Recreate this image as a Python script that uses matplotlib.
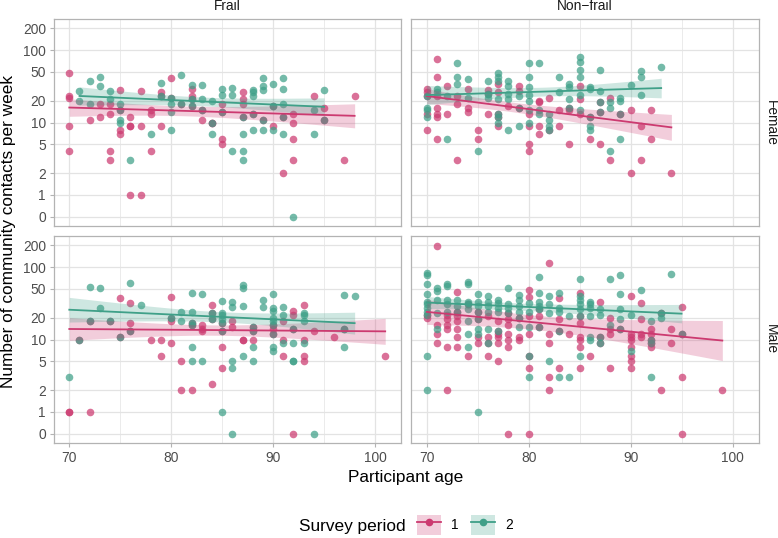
import numpy as np
import matplotlib
matplotlib.use("Agg")
import matplotlib.pyplot as plt
from matplotlib.patches import Patch
from matplotlib.lines import Line2D

plt.rcParams['font.family'] = ['Liberation Sans', 'DejaVu Sans']

# ---- data: age, community contacts per week ----
# Female, Frail
ff1_age = [70, 70, 70, 70, 70, 72, 73, 73, 74, 74, 74, 74, 75, 75, 75, 75, 76, 76, 76, 76,
           77, 77, 77, 78, 78, 78, 79, 79, 79, 80, 80, 81, 82, 82, 82, 82, 83, 83, 84, 84,
           85, 85, 85, 85, 87, 87, 87, 87, 88, 89, 90, 90, 91, 91, 92, 92, 92, 92, 94, 95,
           95, 97, 98]
ff1_n = [49, 23, 22, 9, 4, 11, 18, 12, 18, 13, 4, 3, 28, 15, 8, 7, 12, 9, 9, 1,
         27, 9, 1, 15, 13, 4, 26, 23, 9, 41, 22, 18, 29, 23, 21, 17, 11, 15, 10, 10,
         18, 14, 6, 5, 26, 21, 18, 12, 13, 11, 17, 9, 12, 2, 13, 10, 6, 3, 23, 16,
         11, 3, 23]
ff2_age = [71, 71, 72, 72, 73, 73, 74, 74, 75, 75, 75, 75, 76, 78, 79, 79, 80, 80, 80, 80,
           81, 81, 82, 82, 82, 83, 83, 83, 84, 84, 84, 85, 85, 85, 86, 86, 86, 87, 87, 87,
           87, 88, 88, 88, 88, 88, 89, 89, 89, 89, 89, 90, 90, 90, 91, 91, 91, 91, 91, 92,
           94, 94, 95, 95]
ff2_n = [27, 20, 37, 18, 42, 32, 27, 21, 18, 15, 11, 10, 3, 7, 35, 23, 18, 14, 8, 22,
         46, 18, 33, 21, 17, 33, 21, 15, 20, 10, 7, 29, 24, 14, 30, 24, 4, 12, 7, 4,
         3, 28, 26, 23, 13, 8, 41, 32, 28, 11, 8, 34, 17, 8, 41, 29, 18, 12, 7, 0,
         15, 7, 28, 11]

# Female, Non-frail
fn1_age = [70, 70, 70, 70, 70, 71, 71, 71, 71, 71, 71, 71, 72, 72, 73, 73, 73, 74, 74, 74,
           75, 75, 76, 76, 76, 77, 77, 77, 77, 77, 78, 79, 79, 79, 80, 80, 80, 80, 81, 81,
           81, 81, 82, 82, 83, 83, 84, 84, 84, 85, 85, 85, 86, 86, 87, 87, 87, 88, 88, 89,
           90, 90, 91, 91, 92, 92, 94]
fn1_n = [29, 26, 23, 13, 8, 75, 42, 23, 16, 13, 12, 6, 32, 13, 23, 18, 3, 29, 16, 14,
         8, 6, 28, 25, 13, 34, 26, 13, 12, 9, 17, 32, 27, 16, 13, 9, 5, 4, 20, 19,
         9, 7, 22, 8, 15, 9, 15, 16, 5, 32, 21, 13, 12, 6, 19, 14, 5, 22, 3, 13,
         15, 2, 9, 3, 15, 6, 2]
fn2_age = [70, 70, 70, 70, 71, 71, 72, 72, 73, 73, 73, 74, 74, 75, 76, 76, 76, 77, 77, 77,
           77, 77, 77, 77, 78, 78, 78, 78, 78, 79, 79, 79, 80, 80, 80, 80, 80, 80, 80, 81,
           81, 81, 82, 82, 82, 82, 83, 83, 84, 84, 84, 84, 85, 85, 85, 85, 85, 85, 86, 86,
           86, 86, 86, 87, 87, 87, 87, 88, 88, 88, 89, 89, 89, 89, 90, 91, 91, 91, 93]
fn2_n = [23, 16, 15, 12, 29, 26, 23, 6, 66, 42, 34, 40, 22, 4, 38, 25, 22, 48, 42, 38,
         21, 13, 12, 10, 38, 32, 25, 21, 8, 23, 16, 9, 66, 43, 31, 24, 20, 15, 10, 66,
         15, 13, 13, 11, 9, 8, 42, 26, 34, 31, 21, 16, 80, 68, 53, 43, 24, 15, 31, 29,
         12, 9, 8, 53, 27, 19, 14, 19, 16, 4, 22, 20, 13, 6, 33, 51, 43, 24, 59]

# Male, Frail
mf1_age = [70, 70, 71, 72, 72, 74, 75, 75, 76, 76, 76, 78, 79, 79, 80, 80, 80, 80, 81, 81,
           82, 82, 82, 83, 83, 83, 84, 84, 84, 84, 85, 85, 85, 85, 86, 86, 87, 87, 88, 88,
           88, 90, 90, 90, 91, 91, 91, 92, 92, 92, 92, 93, 93, 93, 93, 94, 96, 97, 101]
mf1_n = [1, 1, 10, 18, 1, 18, 38, 11, 32, 17, 13, 10, 10, 6, 39, 20, 18, 9, 5, 2,
         17, 16, 2, 16, 14, 13, 30, 23, 19, 2.4, 17, 13, 8, 4, 18, 15, 10, 10, 15, 13,
         10, 16, 14, 12, 18, 10, 6, 25, 22, 14, 0, 30, 10, 6, 5, 13, 11, 14, 6]
mf2_age = [70, 71, 72, 72, 73, 73, 74, 75, 76, 76, 77, 80, 81, 81, 82, 82, 82, 82, 82, 82,
           83, 83, 84, 84, 85, 85, 85, 85, 85, 85, 85, 86, 86, 86, 86, 86, 87, 87, 87, 87,
           88, 88, 88, 88, 89, 89, 90, 90, 90, 90, 90, 90, 90, 90, 90, 91, 91, 91, 92, 92,
           92, 92, 93, 93, 93, 93, 94, 97, 97, 97, 98]
mf2_n = [3, 10, 54, 18, 51, 27, 18, 11, 60, 13, 30, 20, 24, 18, 44, 24, 17, 16, 8, 5,
         42, 5, 23, 19, 34, 23, 22, 19, 17, 13, 1, 33, 28, 5, 4, 0, 57, 52, 29, 6,
         15, 13, 8, 5, 35, 28, 42, 27, 25, 20, 18, 16, 12, 8, 7, 28, 22, 9, 14, 9,
         5, 5, 23, 22, 18, 9, 0, 41, 14, 8, 40]

# Male, Non-frail
mn1_age = [70, 70, 71, 71, 71, 71, 72, 72, 72, 72, 72, 72, 73, 73, 73, 73, 73, 73, 73, 74,
           74, 75, 75, 75, 75, 76, 76, 76, 76, 77, 77, 77, 77, 77, 77, 78, 78, 78, 78, 78,
           78, 78, 79, 79, 79, 80, 80, 80, 80, 80, 80, 80, 81, 81, 81, 82, 82, 82, 82, 82,
           83, 83, 83, 83, 84, 85, 85, 85, 85, 85, 85, 85, 86, 87, 87, 87, 88, 88, 88, 88,
           89, 90, 90, 90, 90, 90, 90, 90, 90, 91, 91, 91, 91, 92, 92, 92, 92, 92, 93, 93,
           94, 94, 95, 95, 95, 95, 99]
mn1_n = [22, 20, 196, 16, 12, 9, 22, 19, 16, 14, 8, 2, 45, 24, 21, 18, 14, 11, 8, 31,
         6, 24, 19, 11, 9, 21, 11, 9, 6, 18, 13, 12, 11, 9, 5, 23, 19, 16, 12, 10,
         8, 0, 20, 11, 10, 48, 39, 21, 12, 6, 4, 0, 26, 21, 15, 116, 12, 9, 3, 2,
         38, 19, 13, 4, 12, 44, 21, 17, 11, 10, 8, 4, 6, 33, 11, 9, 20, 14, 12, 4,
         14, 40, 12, 11, 10, 8, 6, 5, 4, 32, 19, 12, 11, 14, 12, 10, 9, 8, 23, 2,
         14, 9, 28, 12, 3, 0, 2]
mn2_age = [70, 70, 70, 70, 70, 70, 70, 70, 70, 70, 70, 71, 71, 71, 71, 71, 72, 72, 72, 72,
           72, 73, 73, 73, 74, 74, 74, 74, 74, 74, 74, 74, 75, 75, 75, 75, 75, 75, 75, 75,
           76, 76, 76, 76, 76, 76, 77, 77, 77, 77, 77, 78, 78, 78, 78, 79, 79, 79, 79, 79,
           79, 80, 80, 80, 80, 80, 81, 81, 81, 81, 81, 81, 82, 82, 82, 82, 83, 83, 83, 83,
           83, 84, 84, 85, 85, 85, 85, 85, 85, 85, 86, 86, 86, 86, 86, 86, 87, 87, 87, 87,
           88, 88, 89, 89, 89, 89, 89, 90, 90, 91, 92, 92, 92, 92, 93, 93, 94, 95]
mn2_n = [84, 78, 59, 43, 33, 31, 27, 24, 22, 6, 2, 51, 47, 35, 23, 14, 58, 55, 35, 31,
         24, 35, 29, 24, 62, 58, 33, 31, 26, 18, 12, 8, 42, 33, 29, 24, 19, 14, 12, 1,
         40, 33, 29, 24, 14, 9, 35, 32, 27, 24, 13, 51, 31, 27, 23, 41, 35, 29, 24, 20,
         15, 32, 24, 15, 6, 3, 72, 44, 33, 29, 26, 15, 40, 31, 23, 5, 44, 27, 24, 13,
         3, 21, 3, 69, 40, 35, 31, 26, 21, 6, 33, 31, 27, 21, 11, 10, 26, 22, 11, 9,
         69, 16, 78, 43, 26, 19, 14, 22, 7, 49, 18, 10, 9, 3, 23, 20, 80, 12]

frailty_labels = ['Frail', 'Non\u2212frail']
sex_labels = ['Female', 'Male']
period_labels = ['1', '2']
y_ticks = [0, 1, 2, 5, 10, 20, 50, 100, 200]
x_ticks = [70, 80, 90, 100]

panels = [[(ff1_age, ff1_n, ff2_age, ff2_n), (fn1_age, fn1_n, fn2_age, fn2_n)],
          [(mf1_age, mf1_n, mf2_age, mf2_n), (mn1_age, mn1_n, mn2_age, mn2_n)]]

pink = '#CC3A70'
teal = '#3FA088'
cols = [pink, teal]


def shift0(v):
    # zero counts sit at 0.5 on the log axis
    v = np.asarray(v, float)
    return np.where(v == 0, 0.5, v)


def qpois_band(x, y):
    # quasi-poisson glm (log link), fitted by IRLS, 95% band on link scale
    x = np.asarray(x, float)
    y = np.asarray(y, float)
    xm = x.mean()
    X = np.column_stack([np.ones_like(x), x - xm])
    b = np.array([np.log(y.mean()), 0.0])
    for _ in range(50):
        eta = X @ b
        mu = np.exp(eta)
        z = eta + (y - mu) / mu
        XtW = X.T * mu
        b = np.linalg.solve(XtW @ X, XtW @ z)
    mu = np.exp(X @ b)
    phi = ((y - mu) ** 2 / mu).sum() / (len(y) - 2)
    cov = phi * np.linalg.inv((X.T * mu) @ X)
    xs = np.linspace(x.min(), x.max(), 100)
    Xs = np.column_stack([np.ones_like(xs), xs - xm])
    eta = Xs @ b
    se = np.sqrt(np.einsum('ij,jk,ik->i', Xs, cov, Xs))
    return xs, np.exp(eta), np.exp(eta - 1.96 * se), np.exp(eta + 1.96 * se)


W, H = 778, 538
fig = plt.figure(figsize=(W / 100, H / 100), dpi=100)

lefts = [53.5, 411]
tops = [19, 236]
pw, ph = 347.5, 207

ylo, yhi = 0.5 * 2 ** -0.432, 200 * 2 ** 0.432

for r in range(2):
    for c in range(2):
        ax = fig.add_axes([lefts[c] / W, 1 - (tops[r] + ph) / H, pw / W, ph / H])
        a1, n1, a2, n2 = panels[r][c]
        ax.scatter(a1, shift0(n1), s=30, color=pink, alpha=0.72, lw=0, zorder=2)
        ax.scatter(a2, shift0(n2), s=30, color=teal, alpha=0.72, lw=0, zorder=2)
        for k, (aa, nn) in enumerate([(a1, n1), (a2, n2)]):
            xs, fit, lo, hi = qpois_band(aa, nn)
            ax.fill_between(xs, lo, hi, color=cols[k], alpha=0.25, lw=0, zorder=3)
            ax.plot(xs, fit, color=cols[k], lw=1.3, zorder=4)

        ax.set_yscale('log')
        ax.set_ylim(ylo, yhi)
        ax.set_xlim(68.45, 102.55)
        ax.set_yticks(shift0(y_ticks))
        ax.set_yticks([], minor=True)
        ax.set_xticks(x_ticks)
        ax.set_xticks([75, 85, 95], minor=True)
        ax.grid(True, which='major', color='#E3E3E3', lw=0.9, zorder=0)
        ax.grid(True, which='minor', axis='x', color='#E8E8E8', lw=0.6, zorder=0)
        ax.set_axisbelow(True)
        for sp in ax.spines.values():
            sp.set_color('#B3B3B3')
            sp.set_linewidth(0.9)
        ax.tick_params(which='both', length=3, width=0.8, color='#B3B3B3',
                       labelsize=9.9, labelcolor='#4D4D4D', pad=2.5)
        ax.tick_params(which='minor', length=0)
        if c == 0:
            ax.set_yticklabels([str(t) for t in y_ticks])
        else:
            ax.tick_params(axis='y', length=0, labelleft=False)
        if r == 1:
            ax.set_xticklabels([str(t) for t in x_ticks])
        else:
            ax.tick_params(axis='x', length=0, labelbottom=False)

        if r == 0:
            fig.text((lefts[c] + pw / 2) / W, 1 - 10 / H, frailty_labels[c],
                     ha='center', va='baseline', fontsize=9.9, color='#1A1A1A')
        if c == 1:
            fig.text(771 / W, 1 - (tops[r] + ph / 2) / H, sex_labels[r],
                     ha='center', va='center', rotation=-90, fontsize=9.9,
                     color='#1A1A1A')

fig.text(406 / W, 1 - 482 / H, 'Participant age', ha='center', va='baseline',
         fontsize=12.4)
fig.text(9 / W, 1 - 231 / H, 'Number of community contacts per week',
         ha='center', va='center', rotation=90, fontsize=12.4)

fig.text(299 / W, 1 - 531.5 / H, 'Survey period', ha='left', va='baseline',
         fontsize=12.4)
handles = []
for k in range(2):
    band = Patch(facecolor=cols[k], alpha=0.25, lw=0)
    ln = Line2D([], [], color=cols[k], lw=1.3, marker='o', markersize=5.5,
                markeredgewidth=0, alpha=1)
    handles.append((band, ln))
fig.legend(handles, period_labels, loc='center left',
           bbox_to_anchor=(417 / W, 1 - 525 / H), ncol=2, frameon=False,
           fontsize=9.9, handlelength=1.75, handleheight=1.9,
           handletextpad=0.75, columnspacing=0.85, borderpad=0, borderaxespad=0)

fig.savefig('out.png', dpi=100)
